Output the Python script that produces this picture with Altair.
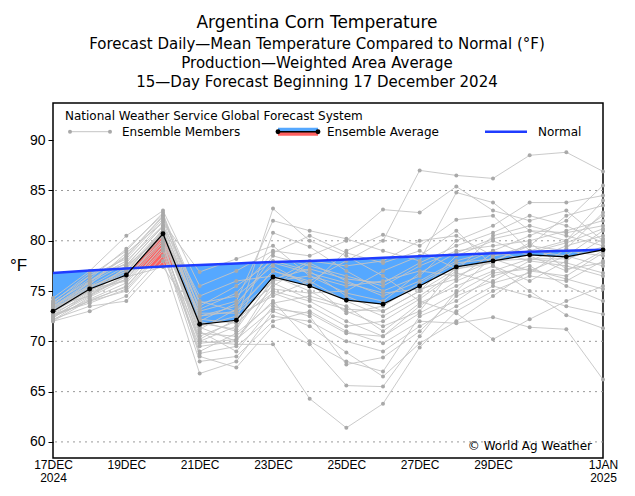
import json
import altair as alt
import numpy as np
import pandas as pd

# ---------------- data ----------------
days = list(range(16))  # 0 = 17 Dec 2024 ... 15 = 1 Jan 2025
tick_days = [0, 2, 4, 6, 8, 10, 12, 15]
tick_labels = [["17DEC", "2024"], ["19DEC"], ["21DEC"], ["23DEC"], ["25DEC"],
               ["27DEC"], ["29DEC"], ["1JAN", "2025"]]
y_ticks = [60, 65, 70, 75, 80, 85, 90]
grid_values = [60, 65, 70, 75, 80, 85]

ens_avg = [73.0, 75.2, 76.6, 80.7, 71.7, 72.1, 76.4, 75.5,
           74.1, 73.7, 75.5, 77.4, 78.0, 78.6, 78.4, 79.1]
normal = [76.8, 77.05, 77.25, 77.45, 77.6, 77.75, 77.9, 78.0,
          78.15, 78.3, 78.45, 78.6, 78.75, 78.9, 79.0, 79.1]

members = [
    [73.5, 75.5, 77.5, 81.5, 72.5, 73.0, 77.0, 76.0, 78.0, 80.0, 87.0, 86.5, 86.2, 88.5, 88.8, 86.9],
    [72.5, 74.0, 75.5, 79.5, 70.0, 69.7, 69.7, 64.3, 61.4, 63.8, 69.4, 73.0, 75.0, 76.5, 76.0, 78.0],
    [73.0, 75.0, 77.0, 81.0, 70.5, 72.0, 83.2, 80.0, 78.5, 76.5, 74.0, 72.8, 70.2, 72.2, 74.0, 75.5],
    [72.8, 76.0, 78.5, 82.5, 73.0, 74.0, 82.0, 81.0, 80.2, 79.0, 78.0, 84.8, 83.8, 81.0, 80.0, 82.5],
    [73.2, 75.2, 76.0, 80.0, 68.5, 67.4, 71.5, 69.7, 65.6, 65.5, 70.5, 75.0, 78.5, 79.0, 80.0, 84.0],
    [72.2, 73.5, 74.0, 78.0, 66.8, 68.0, 73.0, 71.5, 68.9, 66.5, 69.8, 72.0, 74.5, 77.0, 78.5, 81.0],
    [74.0, 76.5, 79.0, 82.8, 72.0, 71.0, 80.8, 79.4, 77.0, 75.0, 76.5, 80.0, 81.5, 83.8, 83.8, 84.5],
    [73.5, 74.5, 77.5, 80.5, 73.5, 75.5, 78.0, 77.0, 74.5, 73.0, 75.0, 78.5, 80.0, 78.5, 77.0, 79.0],
    [72.0, 73.0, 74.5, 78.5, 69.5, 70.0, 75.0, 74.0, 72.0, 70.5, 73.5, 76.0, 77.5, 75.0, 72.6, 71.3],
    [73.8, 76.0, 78.0, 81.5, 74.5, 76.0, 76.5, 75.0, 73.0, 71.5, 73.0, 77.5, 79.0, 80.5, 82.0, 85.5],
    [72.5, 74.5, 76.5, 80.0, 71.0, 69.0, 73.5, 72.5, 67.7, 68.4, 71.0, 74.5, 76.0, 78.0, 77.5, 76.5],
    [74.3, 77.0, 80.5, 83.0, 75.5, 77.0, 79.0, 78.5, 80.0, 83.1, 82.8, 85.4, 83.0, 82.0, 83.0, 80.0],
    [73.0, 75.5, 76.5, 81.0, 70.0, 71.5, 76.0, 76.5, 75.5, 76.0, 77.0, 76.5, 78.0, 79.5, 79.0, 78.5],
    [72.6, 74.0, 75.0, 79.0, 68.0, 68.5, 72.0, 73.0, 71.0, 69.8, 72.0, 71.8, 72.4, 71.4, 71.2, 66.2],
    [73.4, 75.8, 77.8, 82.0, 72.5, 73.5, 78.5, 77.5, 76.5, 75.5, 77.5, 79.0, 79.5, 80.0, 81.0, 82.0],
    [72.3, 74.8, 76.2, 80.5, 71.5, 72.5, 74.5, 76.0, 74.0, 72.5, 74.5, 77.0, 80.5, 81.5, 80.5, 79.5],
    [73.6, 76.5, 78.2, 82.2, 73.8, 74.5, 77.5, 75.5, 79.0, 80.6, 79.5, 82.1, 82.5, 79.0, 78.5, 77.5],
    [72.9, 75.0, 76.8, 81.2, 70.8, 70.5, 74.0, 70.0, 68.0, 67.0, 72.5, 74.0, 76.5, 77.5, 75.5, 74.0],
    [73.1, 75.3, 77.2, 80.8, 72.8, 72.8, 75.5, 77.8, 76.0, 74.5, 76.0, 78.0, 79.0, 78.0, 79.5, 80.5],
    [72.4, 74.2, 75.8, 79.8, 69.0, 70.8, 73.8, 74.5, 73.5, 71.0, 73.8, 75.5, 77.0, 78.2, 77.8, 76.8],
    [73.7, 76.2, 79.2, 82.6, 74.0, 73.0, 76.0, 78.0, 77.5, 78.0, 80.0, 80.5, 78.5, 79.5, 82.5, 83.5],
    [72.7, 73.8, 75.2, 79.2, 68.8, 69.5, 72.5, 72.0, 70.0, 69.0, 71.5, 73.5, 75.5, 74.5, 73.5, 72.7],
    [73.3, 75.6, 78.8, 81.8, 76.9, 78.2, 79.5, 76.5, 74.8, 74.0, 76.8, 78.8, 80.2, 81.0, 80.8, 81.5],
    [72.1, 74.4, 76.2, 80.2, 71.2, 73.2, 77.0, 75.8, 72.8, 73.5, 75.8, 77.8, 78.2, 77.0, 76.5, 78.8],
    [73.9, 76.8, 77.6, 81.4, 72.2, 71.8, 75.2, 74.8, 75.0, 77.0, 78.5, 81.0, 77.5, 76.0, 78.0, 80.2],
    [72.8, 74.6, 76.6, 80.6, 70.2, 72.2, 74.8, 73.5, 71.5, 72.0, 74.2, 76.8, 75.8, 76.8, 79.2, 82.8],
    [73.5, 75.9, 78.4, 82.4, 73.2, 74.8, 78.8, 80.5, 78.8, 77.8, 79.0, 77.2, 77.8, 79.8, 77.2, 77.8],
    [72.0, 74.1, 75.4, 79.5, 69.8, 70.2, 73.2, 72.8, 70.8, 70.5, 72.8, 74.8, 76.8, 77.2, 76.2, 75.2],
    [73.2, 75.4, 77.0, 80.9, 71.8, 71.2, 76.2, 77.2, 76.2, 75.8, 77.8, 79.5, 80.8, 82.5, 81.5, 79.8],
    [72.6, 74.9, 76.4, 77.4, 72.0, 73.8, 77.8, 76.8, 75.8, 74.8, 75.2, 76.2, 78.8, 78.8, 79.8, 81.2],
    [73.0, 75.1, 77.3, 81.1, 71.4, 70.0, 75.8, 74.2, 73.2, 73.0, 75.0, 77.2, 78.0, 78.2, 78.2, 79.4],
]

title_text = "Argentina Corn Temperature"
subtitle_lines = ["Forecast Daily\u2014Mean Temperature Compared to Normal (\u00b0F)",
                  "Production\u2014Weighted Area Average",
                  "15\u2014Day Forecast Beginning 17 December 2024"]

# ---------------- tables ----------------
mem_df = pd.DataFrame([
    {"member": m, "day": d, "temp": v}
    for m, row in enumerate(members) for d, v in zip(days, row)
])
line_df = pd.DataFrame({"day": days, "avg": ens_avg, "normal": normal})

# area between average and normal, split where the two lines cross
rows = []
for i in range(len(days)):
    a, n = ens_avg[i], normal[i]
    rows.append((days[i], a, n))
    if i < len(days) - 1:
        d0 = a - n
        d1 = ens_avg[i + 1] - normal[i + 1]
        if d0 * d1 < 0:
            t = d0 / (d0 - d1)
            xc = days[i] + t * (days[i + 1] - days[i])
            yc = a + t * (ens_avg[i + 1] - a)
            rows.append((xc, yc, yc))
fill_df = pd.DataFrame(rows, columns=["day", "avg", "normal"])
fill_df["below"] = np.minimum(fill_df["avg"], fill_df["normal"])
fill_df["above"] = np.maximum(fill_df["avg"], fill_df["normal"])
grid_df = pd.DataFrame({"g": grid_values})
one = pd.DataFrame({"k": [0]})

# ---------------- encodings ----------------
label_expr = "''"
for d, lab in reversed(list(zip(tick_days, tick_labels))):
    label_expr = f"datum.value == {d} ? {json.dumps(lab)} : ({label_expr})"

FONT = "DejaVu Sans"
AXFONT = "Liberation Sans"

x_scale = alt.Scale(domain=[0, 15], nice=False, zero=False)
y_scale = alt.Scale(domain=[58.4, 93.7], nice=False, zero=False)

x_axis = alt.Axis(values=tick_days, labelExpr=label_expr, title=None, ticks=False,
                  domain=False, grid=False, labelFont=AXFONT, labelFontSize=12,
                  labelColor="black", labelPadding=1, labelFlush=False,
                  labelBound=False, labelOverlap=False, labelLineHeight=13)
y_axis = alt.Axis(values=y_ticks, title="\u00b0F", titleAngle=0, titleX=-35,
                  titleY=162, titleAlign="center", titleBaseline="middle",
                  titleFont=AXFONT, titleFontSize=17, titleFontWeight="normal",
                  titleColor="black", domain=False, grid=False, tickSize=5,
                  tickColor="black", labelFont=AXFONT, labelFontSize=14,
                  labelColor="black", labelPadding=3)


def X(field):
    return alt.X(f"{field}:Q", scale=x_scale, axis=x_axis)


def Y(field):
    return alt.Y(f"{field}:Q", scale=y_scale, axis=y_axis)


BLUE_FILL = "#55a8ff"
RED_FILL = "#ff6060"
MEM_LINE = "#c4c4c4"
MEM_PT = "#a9a9a9"

grid = alt.Chart(grid_df).mark_rule(color="#9a9a9a", strokeDash=[2, 4], strokeWidth=1).encode(
    y=Y("g"))

blue_area = alt.Chart(fill_df).mark_area(color=BLUE_FILL, opacity=1).encode(
    x=X("day"), y=Y("below"), y2="normal")
red_area = alt.Chart(fill_df).mark_area(color=RED_FILL, opacity=1).encode(
    x=X("day"), y=Y("above"), y2="normal")

mem_lines = alt.Chart(mem_df).mark_line(color=MEM_LINE, strokeWidth=0.9).encode(
    x=X("day"), y=Y("temp"), detail="member:N")
mem_pts = alt.Chart(mem_df).mark_circle(color=MEM_PT, size=16, opacity=1).encode(
    x=X("day"), y=Y("temp"))

norm_line = alt.Chart(line_df).mark_line(color="#1f3cff", strokeWidth=2.5).encode(
    x=X("day"), y=Y("normal"))
avg_line = alt.Chart(line_df).mark_line(color="black", strokeWidth=1.2).encode(
    x=X("day"), y=Y("avg"))
avg_pts = alt.Chart(line_df).mark_circle(color="black", size=24, opacity=1).encode(
    x=X("day"), y=Y("avg"))

# ---------------- legend (inside plot) ----------------
LY = 28.7


def txt(s, x, y, size=12, align="left"):
    return alt.Chart(one).mark_text(font=FONT, fontSize=size, align=align,
                                    baseline="middle", color="black").encode(
        x=alt.value(x), y=alt.value(y), text=alt.value(s))


leg = [
    txt("National Weather Service Global Forecast System", 12, 12.7),
    alt.Chart(one).mark_rule(color=MEM_LINE, strokeWidth=1).encode(
        x=alt.value(17), x2=alt.value(57), y=alt.value(LY)),
    alt.Chart(one).mark_circle(color=MEM_PT, size=16, opacity=1).encode(
        x=alt.value(17), y=alt.value(LY)),
    alt.Chart(one).mark_circle(color=MEM_PT, size=16, opacity=1).encode(
        x=alt.value(57), y=alt.value(LY)),
    txt("Ensemble Members", 69, LY),
    alt.Chart(one).mark_rect(color=BLUE_FILL).encode(
        x=alt.value(225), x2=alt.value(265), y=alt.value(LY - 4), y2=alt.value(LY)),
    alt.Chart(one).mark_rect(color=RED_FILL).encode(
        x=alt.value(225), x2=alt.value(265), y=alt.value(LY), y2=alt.value(LY + 4)),
    alt.Chart(one).mark_rule(color="black", strokeWidth=1.5).encode(
        x=alt.value(225), x2=alt.value(265), y=alt.value(LY)),
    alt.Chart(one).mark_circle(color="black", size=24, opacity=1).encode(
        x=alt.value(225), y=alt.value(LY)),
    alt.Chart(one).mark_circle(color="black", size=24, opacity=1).encode(
        x=alt.value(265), y=alt.value(LY)),
    txt("Ensemble Average", 274, LY),
    alt.Chart(one).mark_rule(color="#1f3cff", strokeWidth=2.5).encode(
        x=alt.value(432), x2=alt.value(474), y=alt.value(LY)),
    txt("Normal", 485, LY),
    txt("\u00a9 World Ag Weather", 539, 343, align="right"),
]

chart = alt.layer(
    grid, blue_area, red_area, mem_lines, mem_pts, norm_line, avg_line, avg_pts, *leg
).properties(
    width=550,
    height=355,
    autosize=alt.AutoSizeParams(type="none"),
    padding={"left": 45, "top": 95, "right": 24, "bottom": 28},
    title=alt.TitleParams(
        text=title_text, subtitle=subtitle_lines, anchor="middle", dx=-11,
        font=FONT, fontSize=17, fontWeight="normal", color="black",
        subtitleFont=FONT, subtitleFontSize=15, subtitleColor="black",
        subtitleLineHeight=19, subtitlePadding=5, offset=12,
    ),
).configure_view(stroke="black", strokeWidth=1.5)

chart.save("out.html", embed_options={"renderer": "svg", "actions": False})
